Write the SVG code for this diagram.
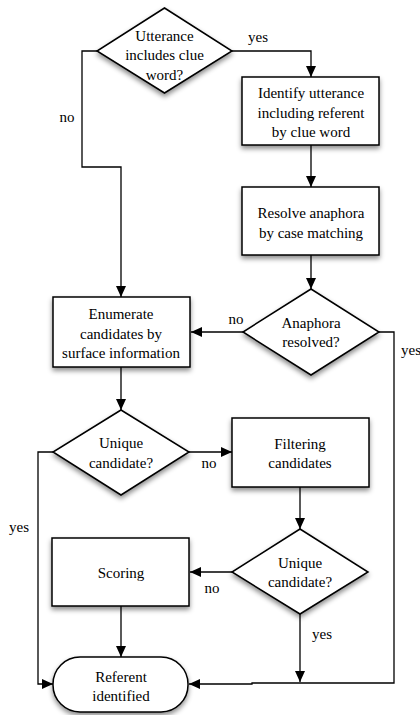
<svg xmlns="http://www.w3.org/2000/svg" width="420" height="715" viewBox="0 0 420 715" font-family="'Liberation Serif', 'Times New Roman', 'DejaVu Serif', serif">
<style>
.n{fill:#fff;stroke:#000;stroke-width:1.5;filter:url(#sh)}
.c{fill:none;stroke:#000;stroke-width:1.3}
text{font-family:"Liberation Serif","Times New Roman","DejaVu Serif",serif;font-size:15px;fill:#000;text-anchor:middle;dominant-baseline:central}
</style>
<defs>
<filter id="sh" x="-20%" y="-20%" width="150%" height="160%">
<feDropShadow dx="0" dy="3" stdDeviation="2.5" flood-color="#000" flood-opacity="0.45"/>
</filter>
<marker id="ah" markerUnits="userSpaceOnUse" markerWidth="12" markerHeight="10" refX="11" refY="5" orient="auto">
<path d="M0,0 L11,5 L0,10 Z" fill="#000"/>
</marker>
</defs>
<rect width="420" height="715" fill="#fff"/>
<g id="connectors">
<path class="c" d="M232,51 H311 V77" marker-end="url(#ah)"/>
<path class="c" d="M97,51 H82 V167 H121 V297" marker-end="url(#ah)"/>
<path class="c" d="M311,145 V187" marker-end="url(#ah)"/>
<path class="c" d="M311,255 V289" marker-end="url(#ah)"/>
<path class="c" d="M243,332 H191" marker-end="url(#ah)"/>
<path class="c" d="M379,332 H394 V683 H252 V684 H189" marker-end="url(#ah)"/>
<path class="c" d="M121,367 V410" marker-end="url(#ah)"/>
<path class="c" d="M189,452 H232" marker-end="url(#ah)"/>
<path class="c" d="M53,452 H38 V684 H53" marker-end="url(#ah)"/>
<path class="c" d="M300,487 V529" marker-end="url(#ah)"/>
<path class="c" d="M232,572 H190" marker-end="url(#ah)"/>
<path class="c" d="M300,614 V682" marker-end="url(#ah)"/>
<path class="c" d="M121,606 V657" marker-end="url(#ah)"/>
<text x="258" y="37">yes</text>
<text x="67" y="117">no</text>
<text x="236" y="319">no</text>
<text x="411" y="350">yes</text>
<text x="209" y="463">no</text>
<text x="19" y="527">yes</text>
<text x="212" y="588">no</text>
<text x="322" y="634">yes</text>
</g>
<g id="d1">
<polygon class="n" points="164.5,8 232,51 164.5,93 97,51"/>
<text x="164.5" y="36">Utterance</text>
<text x="164.5" y="55">includes clue</text>
<text x="164.5" y="75">word?</text>
</g>
<g id="b1">
<rect class="n" x="242" y="77" width="137" height="68"/>
<text x="311" y="93">Identify utterance</text>
<text x="311" y="113">including referent</text>
<text x="311" y="132">by clue word</text>
</g>
<g id="b2">
<rect class="n" x="242" y="187" width="137" height="68"/>
<text x="311" y="213">Resolve anaphora</text>
<text x="311" y="233">by case matching</text>
</g>
<g id="d2">
<polygon class="n" points="311,289 379,332 311,375 243,332"/>
<text x="311" y="323">Anaphora</text>
<text x="311" y="342">resolved?</text>
</g>
<g id="b3">
<rect class="n" x="53" y="297" width="137" height="70"/>
<text x="121" y="314">Enumerate</text>
<text x="121" y="334">candidates by</text>
<text x="121" y="353">surface information</text>
</g>
<g id="d3">
<polygon class="n" points="121,410 189,452 121,495 53,452"/>
<text x="121" y="443">Unique</text>
<text x="121" y="463">candidate?</text>
</g>
<g id="b4">
<rect class="n" x="232" y="418" width="137" height="69"/>
<text x="300" y="444">Filtering</text>
<text x="300" y="463">candidates</text>
</g>
<g id="d4">
<polygon class="n" points="300,529 368,572 300,614 232,572"/>
<text x="300" y="563">Unique</text>
<text x="300" y="582">candidate?</text>
</g>
<g id="b5">
<rect class="n" x="52" y="538" width="137" height="68"/>
<text x="121" y="573">Scoring</text>
</g>
<g id="t1">
<rect class="n" x="53" y="657" width="135" height="55" rx="27" ry="27"/>
<text x="121" y="677">Referent</text>
<text x="121" y="696">identified</text>
</g>
</svg>
